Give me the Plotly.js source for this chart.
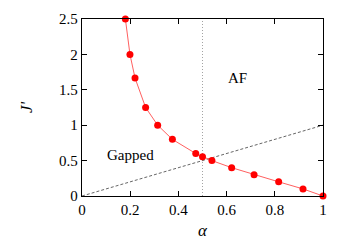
<!DOCTYPE html>
<html><head><meta charset="utf-8">
<script src="https://cdn.plot.ly/plotly-3.0.1.min.js"></script>
<style>html,body{margin:0;padding:0;background:#fff}#plot{width:349px;height:245px}</style>
</head><body><div id="plot"></div>
<script>
const alphaVals = [0.180, 0.199, 0.220, 0.264, 0.314, 0.375, 0.472, 0.500, 0.539, 0.621, 0.714, 0.816, 0.917, 1.0];
const jVals     = [2.5, 2.0, 1.667, 1.25, 1.0, 0.8, 0.6, 0.556, 0.5, 0.4, 0.3, 0.2, 0.1, 0.0];
const diagX = [0, 1];
const diagY = [0, 1];
const vlineX = [0.5, 0.5];
const vlineY = [0, 2.5];
const xTicks = [0, 0.2, 0.4, 0.6, 0.8, 1];
const yTicks = [0, 0.5, 1, 1.5, 2, 2.5];
const font = {family: 'Liberation Serif, DejaVu Serif, serif', size: 15, color: '#000'};
const traces = [
  {x: diagX, y: diagY, mode: 'lines', line: {color: '#555', width: 0.9, dash: '3px,2px'}, hoverinfo: 'skip'},
  {x: vlineX, y: vlineY, mode: 'lines', line: {color: '#999', width: 0.9, dash: '1px,2px'}, hoverinfo: 'skip'},
  {x: alphaVals, y: jVals, mode: 'lines+markers', line: {color: '#ff6060', width: 1},
   marker: {color: '#ff0000', size: 7}, cliponaxis: false}
];
const axisCommon = {showgrid: false, zeroline: false, showline: true, mirror: 'ticks', linecolor: '#000', linewidth: 1.2,
  ticks: 'inside', ticklen: 5, tickcolor: '#000', tickfont: font};
const layout = {
  width: 349, height: 245, showlegend: false,
  font: font,
  margin: {l: 82, r: 26, t: 19, b: 49},
  paper_bgcolor: '#fff', plot_bgcolor: '#fff',
  xaxis: Object.assign({}, axisCommon, {range: [0, 1], tickvals: xTicks, ticktext: xTicks.map(String),
    title: {text: '<i>α</i>', font: Object.assign({}, font, {size: 17}), standoff: 6}}),
  yaxis: Object.assign({}, axisCommon, {range: [0, 2.5], tickvals: yTicks, ticktext: yTicks.map(String),
    title: {text: "<i>J'</i>", font: Object.assign({}, font, {size: 17}), standoff: 22}}),
  annotations: [
    {x: 0.647, y: 1.67, xref: 'x', yref: 'y', text: 'AF', showarrow: false, font: font},
    {x: 0.2, y: 0.58, xref: 'x', yref: 'y', text: 'Gapped', showarrow: false, font: font}
  ]
};
Plotly.newPlot('plot', traces, layout, {displayModeBar: false, staticPlot: true});
</script></body></html>
